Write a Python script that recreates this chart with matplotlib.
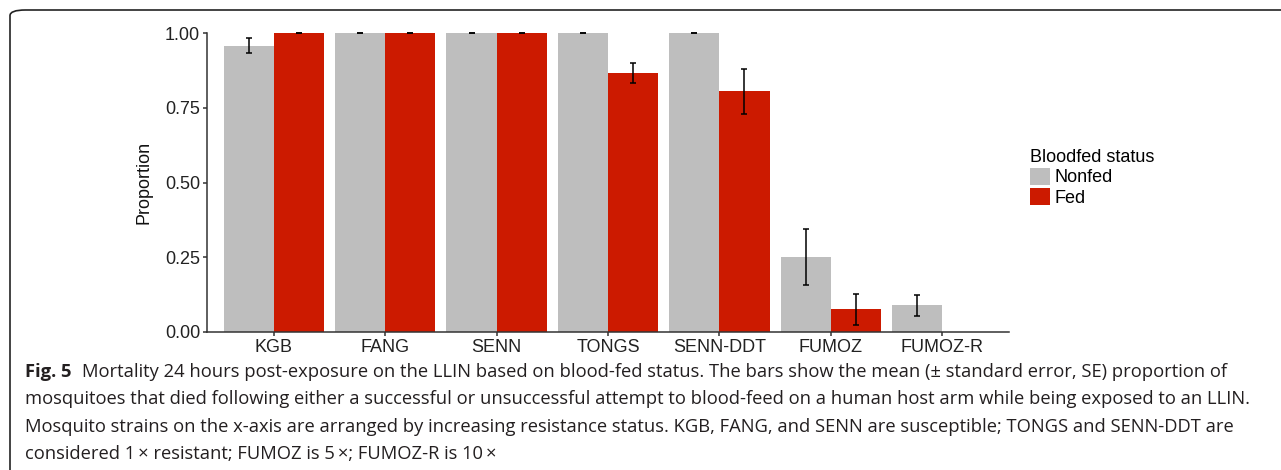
import numpy as np
import matplotlib.pyplot as plt
from matplotlib.patches import FancyBboxPatch

# data
strains = ["KGB", "FANG", "SENN", "TONGS", "SENN-DDT", "FUMOZ", "FUMOZ-R"]
nonfed_mean = [0.958, 1.0, 1.0, 1.0, 1.0, 0.249, 0.088]
nonfed_se   = [0.025, 0.0, 0.0, 0.0, 0.0, 0.094, 0.035]
fed_mean    = [1.0, 1.0, 1.0, 0.868, 0.806, 0.075, 0.0]
fed_se      = [0.0, 0.0, 0.0, 0.033, 0.075, 0.053, np.nan]

caption_lines = [
    "Mortality 24 hours post-exposure on the LLIN based on blood-fed status. The bars show the mean (\u00b1 standard error, SE) proportion of",
    "mosquitoes that died following either a successful or unsuccessful attempt to blood-feed on a human host arm while being exposed to an LLIN.",
    "Mosquito strains on the x-axis are arranged by increasing resistance status. KGB, FANG, and SENN are susceptible; TONGS and SENN-DDT are",
    "considered 1\u2009\u00d7 resistant; FUMOZ is 5\u2009\u00d7; FUMOZ-R is 10\u2009\u00d7",
]

GRAY = "#bebebe"
RED = "#cc1a00"
AXC = "#333333"

W, H = 1281, 470
plt.rcParams['font.family'] = ['Liberation Sans', 'DejaVu Sans']
fig = plt.figure(figsize=(W / 100, H / 100), dpi=100)

# frame around figure + caption (cut off at right and bottom)
frame = FancyBboxPatch((10 / W, -20 / H), 1.2, (H - 10 + 20) / H,
                       boxstyle="round,pad=0,rounding_size=0.012",
                       transform=fig.transFigure, fill=False,
                       edgecolor="#222222", lw=1.2, clip_on=False)
fig.patches.append(frame)

ax = fig.add_axes([207 / W, 1 - 331.7 / H, (1009 - 207) / W, (331.7 - 33.3) / H])

x = np.arange(len(strains))
bw = 0.45
b1 = ax.bar(x - bw / 2, nonfed_mean, bw, color=GRAY, label="Nonfed")
b2 = ax.bar(x + bw / 2, fed_mean, bw, color=RED, label="Fed")
ax.errorbar(x - bw / 2, nonfed_mean, yerr=nonfed_se, fmt='none', ecolor="black",
            elinewidth=1.1, capsize=2.2, capthick=1.1, clip_on=False)
ax.errorbar(x + bw / 2, fed_mean, yerr=fed_se, fmt='none', ecolor="black",
            elinewidth=1.1, capsize=2.2, capthick=1.1, clip_on=False)

ax.set_xlim(-0.6, len(strains) - 0.4)
ax.set_ylim(0, 1.0)
ax.set_yticks([0, 0.25, 0.5, 0.75, 1.0])
ax.set_yticklabels(["0.00", "0.25", "0.50", "0.75", "1.00"])
ax.set_xticks(x)
ax.set_xticklabels(strains)
for s in ["top", "right"]:
    ax.spines[s].set_visible(False)
for s in ["left", "bottom"]:
    ax.spines[s].set_color(AXC)
    ax.spines[s].set_linewidth(1.1)
ax.tick_params(colors=AXC, length=3, width=1.1, labelsize=13, labelcolor="#222222", pad=2)
ax.set_ylabel("Proportion", fontsize=13, color="#111111", labelpad=9)

leg = ax.legend(handles=[b1, b2], title="Bloodfed status", loc="upper left",
                bbox_to_anchor=(1030 / W, 1 - 149 / H), bbox_transform=fig.transFigure,
                frameon=False, fontsize=13, title_fontsize=13, borderpad=0,
                borderaxespad=0, handlelength=1.1, handleheight=1.05,
                labelspacing=0.1, handletextpad=0.25, alignment="left")

# caption
cap_font = ['Open Sans', 'DejaVu Sans']
cap_size = 13.2
cap_y = [372, 399, 427, 454]
fig.canvas.draw()
r = fig.canvas.get_renderer()
t0 = fig.text(25 / W, 1 - cap_y[0] / H, "Fig. 5", fontsize=cap_size, fontweight="bold",
              family=cap_font, va="center", color="#231f20")
bb = t0.get_window_extent(r)
fig.text((bb.x1 + 10) / W, 1 - cap_y[0] / H, caption_lines[0], fontsize=cap_size,
         family=cap_font, va="center", color="#231f20")
for line, yy in zip(caption_lines[1:], cap_y[1:]):
    fig.text(25 / W, 1 - yy / H, line, fontsize=cap_size, family=cap_font,
             va="center", color="#231f20")

fig.savefig("out.png", dpi=100)
